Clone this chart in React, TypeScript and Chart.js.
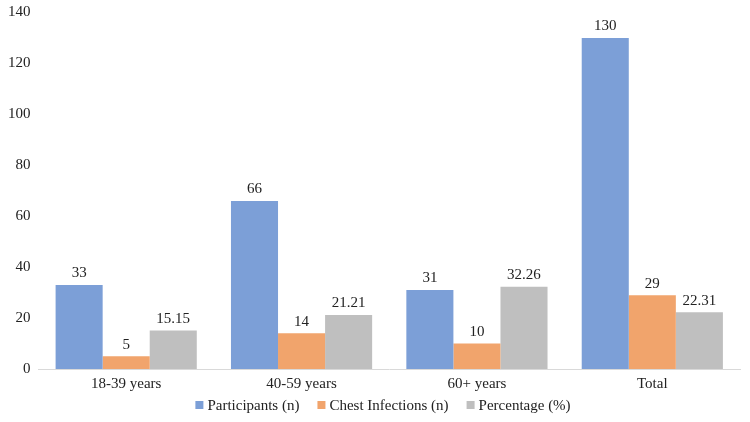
import React, { useEffect, useRef } from "react";
import { Chart, registerables } from "chart.js";

Chart.register(...registerables);

const categories = ["18-39 years", "40-59 years", "60+ years", "Total"];
const participants = [33, 66, 31, 130];
const chestInfections = [5, 14, 10, 29];
const percentage = [15.15, 21.21, 32.26, 22.31];
const seriesNames = ["Participants (n)", "Chest Infections (n)", "Percentage (%)"];
const seriesColors = ["#7C9FD7", "#F1A46C", "#BFBFBF"];
const yTicks = [0, 20, 40, 60, 80, 100, 120, 140];

const FONT = "'Liberation Serif', 'Times New Roman', serif";

const labelPlugin = {
  id: "valueLabels",
  afterDatasetsDraw(chart: any) {
    const ctx = chart.ctx;
    ctx.save();
    ctx.font = `15px ${FONT}`;
    ctx.fillStyle = "#222";
    ctx.textAlign = "center";
    ctx.textBaseline = "bottom";
    chart.data.datasets.forEach((ds: any, i: number) => {
      const meta = chart.getDatasetMeta(i);
      meta.data.forEach((bar: any, j: number) => {
        ctx.fillText(String(ds.data[j]), bar.x, bar.y - 4);
      });
    });
    ctx.restore();
  },
};

const legendPlugin = {
  id: "customLegend",
  afterDraw(chart: any) {
    const ctx = chart.ctx;
    ctx.save();
    ctx.font = `15px ${FONT}`;
    ctx.textBaseline = "middle";
    ctx.textAlign = "left";
    const box = 8;
    const gapText = 4;
    const gapItem = 18;
    const items = chart.data.datasets.map((ds: any) => ({
      label: ds.label,
      color: ds.backgroundColor,
      w: ctx.measureText(ds.label).width,
    }));
    const total =
      items.reduce((s: number, it: any) => s + box + gapText + it.w, 0) + gapItem * (items.length - 1);
    let x = 383 - total / 2;
    const y = 405;
    items.forEach((it: any) => {
      ctx.fillStyle = it.color;
      ctx.fillRect(x, y - box / 2, box, box);
      x += box + gapText;
      ctx.fillStyle = "#222";
      ctx.fillText(it.label, x, y + 1);
      x += it.w + gapItem;
    });
    ctx.restore();
  },
};

export default function App() {
  const ref = useRef<HTMLCanvasElement>(null);
  useEffect(() => {
    document.body.style.margin = "0";
    const values = [participants, chestInfections, percentage];
    const chart = new Chart(ref.current!, {
      type: "bar",
      data: {
        labels: categories,
        datasets: values.map((v, i) => ({
          label: seriesNames[i],
          data: v,
          backgroundColor: seriesColors[i],
          borderWidth: 0,
          barPercentage: 1,
          categoryPercentage: 0.805,
        })),
      },
      options: {
        animation: false,
        responsive: false,
        maintainAspectRatio: false,
        layout: { padding: { left: 0, right: 10, top: 0, bottom: 23 } },
        plugins: {
          legend: { display: false },
          tooltip: { enabled: false },
        },
        scales: {
          x: {
            grid: { display: false, drawTicks: false },
            border: { display: true, color: "#D9D9D9", width: 1 },
            ticks: { font: { family: FONT, size: 15 }, color: "#222", padding: 6 },
          },
          y: {
            min: 0,
            max: 140,
            afterBuildTicks: (axis: any) => {
              axis.ticks = yTicks.map((v) => ({ value: v }));
            },
            grid: { display: false, drawTicks: false },
            border: { display: false },
            ticks: { font: { family: FONT, size: 15, lineHeight: 0.6 }, color: "#222", padding: 8 },
          },
        },
      },
      plugins: [labelPlugin, legendPlugin],
    });
    return () => chart.destroy();
  }, []);
  return (
    <div style={{ width: 750, height: 422 }}>
      <canvas ref={ref} width={750} height={422} style={{ width: 750, height: 422 }} />
    </div>
  );
}
